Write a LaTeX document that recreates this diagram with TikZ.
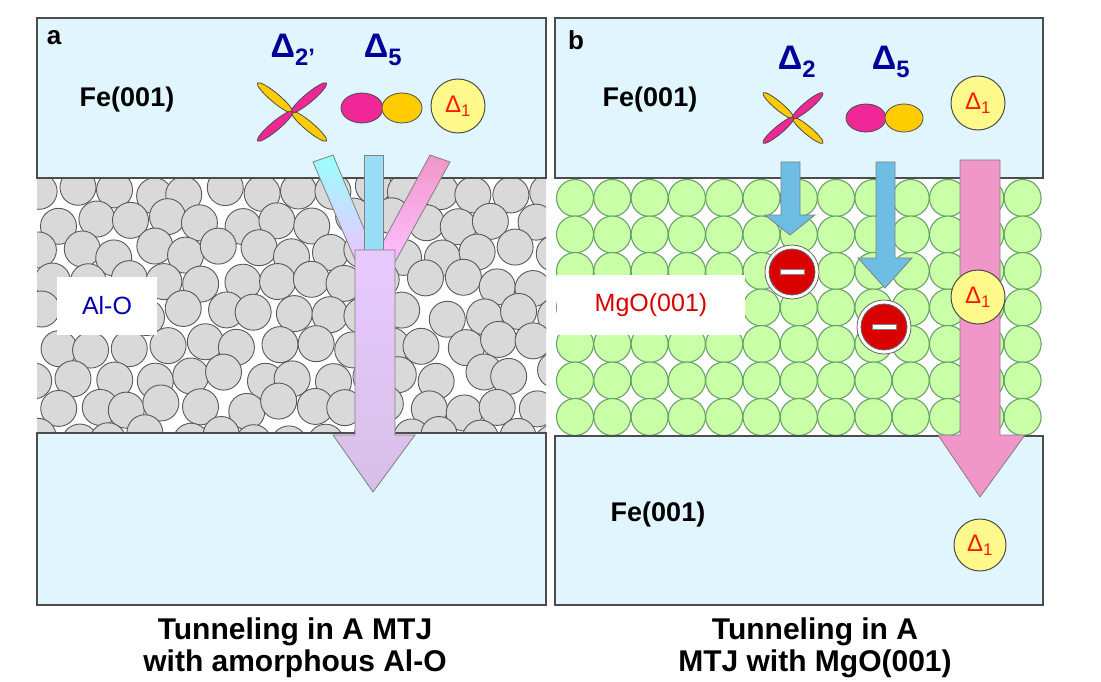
\documentclass[tikz,border=0pt]{standalone}
\usepackage{fontspec}
\setmainfont{Liberation Sans}
\definecolor{arrblue}{RGB}{110,190,228}
\definecolor{arrpink}{RGB}{240,150,200}
\begin{document}
\begin{tikzpicture}[x=1pt,y=-1pt,
 box/.style={draw=black!70,line width=1.3pt,fill=cyan!12},
 grey/.style={draw=black!65,line width=0.9pt,fill=black!15},
 green/.style={draw=black!60!green!60,line width=1.1pt,fill=green!60!yellow!35},
 lbl/.style={font=\bfseries\fontsize{27}{27}\selectfont},
 dl/.style={font=\bfseries\fontsize{34}{34}\selectfont,text=blue!60!black},
 d1/.style={circle,draw=black!70,line width=1pt,fill=yellow!45,minimum size=54pt,inner sep=0pt,font=\fontsize{24}{24}\selectfont,text=red!80!orange},
 captxt/.style={font=\bfseries\fontsize{30}{30}\selectfont},
 magl/.style={draw=black!70,line width=0.8pt,fill=magenta!80!pink},
 yell/.style={draw=black!70,line width=0.8pt,fill=orange!40!yellow}]
\useasboundingbox (0,0) rectangle (1101,682);
\fill[white] (0,0) rectangle (1101,682);
% grey circles
\pgfmathsetseed{7}
\begin{scope}
\clip (37,170) rectangle (546,440);
\foreach \r in {0,...,8}{
 \foreach \c in {0,...,14}{
  \pgfmathsetmacro\xx{40+\c*36.5+mod(\r,2)*18+rand*7}
  \pgfmathsetmacro\yy{190+\r*31+rand*6}
  \draw[grey] (\xx,\yy) circle (18);
 }}
\end{scope}
% green circles
\foreach \r in {0,...,6}{
 \foreach \c in {0,...,12}{
  \draw[green] ({575+\c*37.3},{198+\r*36.5}) circle (18.5);
 }}
% boxes
\draw[box] (37,18) rectangle (546,178);
\draw[box] (37,433) rectangle (546,605);
\draw[box] (555,18) rectangle (1043,178);
\draw[box] (555,436) rectangle (1043,605);
% labels
\node[font=\bfseries\fontsize{26}{26}\selectfont] (la) at (54,38) {a};
\node[font=\bfseries\fontsize{26}{26}\selectfont] (lb) at (576,40) {b};
\node[lbl] (fea) at (127,100) {Fe(001)};
\node[lbl] (feb) at (650,100) {Fe(001)};
\node[lbl] (feb2) at (658,515) {Fe(001)};
\node[dl] (d2a) at (293,50) {Δ\textsubscript{2’}};
\node[dl] (d5a) at (383,50) {Δ\textsubscript{5}};
\node[dl] (d2b) at (797,62) {Δ\textsubscript{2}};
\node[dl] (d5b) at (891,62) {Δ\textsubscript{5}};
\node[d1] (d1a) at (458,106) {Δ\textsubscript{1}};
% orbitals a
\draw[yell,rotate around={-40:(292,112)}] (292,112)++(22,0) ellipse (23 and 4.5);
\draw[yell,rotate around={-40:(292,112)}] (292,112)++(-22,0) ellipse (23 and 4.5);
\draw[magl,rotate around={40:(292,112)}] (292,112)++(22,0) ellipse (23 and 4.5);
\draw[magl,rotate around={40:(292,112)}] (292,112)++(-22,0) ellipse (23 and 4.5);
\draw[magl] (362,108) ellipse (21 and 15);
\draw[yell] (402,108) ellipse (20 and 15);
% orbitals b
\draw[yell,rotate around={-40:(793,118)}] (793,118)++(19,0) ellipse (20 and 4);
\draw[yell,rotate around={-40:(793,118)}] (793,118)++(-19,0) ellipse (20 and 4);
\draw[magl,rotate around={40:(793,118)}] (793,118)++(19,0) ellipse (20 and 4);
\draw[magl,rotate around={40:(793,118)}] (793,118)++(-19,0) ellipse (20 and 4);
\draw[magl] (866,118) ellipse (20 and 14);
\draw[yell] (904,118) ellipse (19 and 14);
% Y arrow (panel a)
\draw[line width=0.8pt,draw=black!50,top color=cyan!40,bottom color=cyan!20!magenta!30] (313,162)--(333,155)--(375,255)--(356,262)--cycle;
\draw[line width=0.8pt,draw=black!50,top color=arrpink,bottom color=magenta!25] (430,155)--(450,162)--(395,262)--(376,255)--cycle;
\draw[line width=0.8pt,draw=black!50,fill=cyan!40] (364,155) rectangle (383,250);
\draw[line width=0.8pt,draw=black!50,top color=cyan!30!magenta!30,bottom color=blue!25!violet!25] (355,250)--(395,250)--(395,435)--(415,435)--(373,492)--(333,435)--(355,435)--cycle;
% panel b arrows
\draw[line width=0.8pt,draw=black!50,fill=arrblue] (781,162)--(800,162)--(800,215)--(815,215)--(790,235)--(765,215)--(781,215)--cycle;
\draw[line width=0.8pt,draw=black!50,fill=arrblue] (876,162)--(895,162)--(895,258)--(912,258)--(885,288)--(858,258)--(876,258)--cycle;
\draw[line width=0.8pt,draw=black!50,fill=arrpink] (960,160)--(1000,160)--(1000,435)--(1025,435)--(980,497)--(938,435)--(960,435)--cycle;
\node[d1] (d1b) at (978,103) {Δ\textsubscript{1}};
\node[d1] (d1c) at (978,297) {Δ\textsubscript{1}};
\node[d1,minimum size=52pt] (d1d) at (980,545) {Δ\textsubscript{1}};
% minus ions
\foreach \n/\p in {m1/{(792,272)},m2/{(884,327)}}{
 \node[minimum size=54pt,circle,fill=white,draw=black!60,line width=0.8pt] at \p {};
 \node[circle,fill=red!85!black,draw=black!60,line width=0.8pt,minimum size=46pt] (\n) at \p {};
 \fill[white,draw=black!50] ([xshift=-12pt,yshift=-2.5pt]\n.center) rectangle ([xshift=12pt,yshift=2.5pt]\n.center);
}
% label boxes
\node[fill=white,minimum width=100pt,minimum height=58pt,font=\fontsize{25}{25}\selectfont,text=blue!70!black] (alo) at (107,306) {Al-O};
\node[fill=white,minimum width=188pt,minimum height=60pt,font=\fontsize{25}{25}\selectfont,text=red!85!black] (mgo) at (651,305) {MgO(001)};
% captions
\node[captxt] (c1) at (295,632) {Tunneling in A MTJ};
\node[captxt] (c2) at (295,664) {with amorphous Al-O};
\node[captxt] (c3) at (815,632) {Tunneling in A};
\node[captxt] (c4) at (815,664) {MTJ with MgO(001)};
\end{tikzpicture}
\end{document}
